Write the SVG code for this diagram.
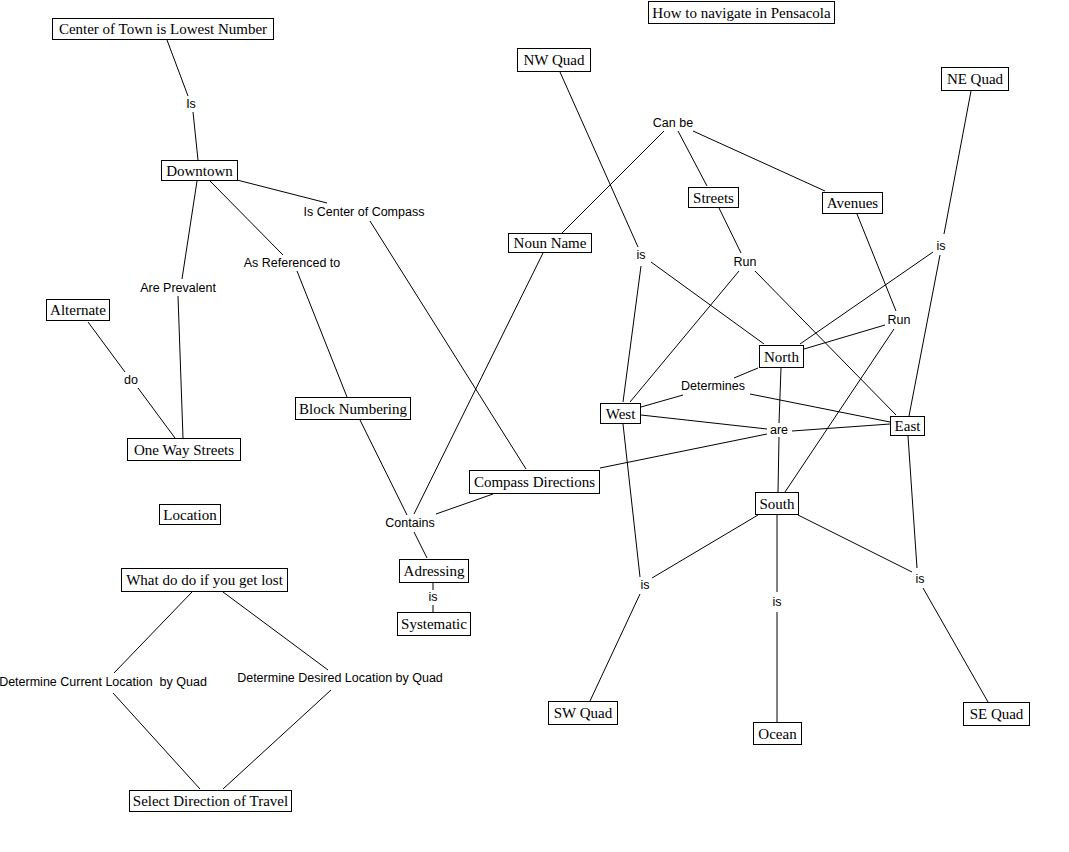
<svg xmlns="http://www.w3.org/2000/svg" width="1069" height="852" viewBox="0 0 1069 852">
<style>
.n rect{fill:#fff;stroke:#000;stroke-width:1}
.n text{font-family:"Liberation Serif","Times New Roman",serif;font-size:15px;text-anchor:middle;fill:#000}
.l text{font-family:"Liberation Sans",Arial,sans-serif;font-size:12.5px;text-anchor:middle;fill:#000}
#connectors line{stroke:#000;stroke-width:1}
</style>
<rect width="1069" height="852" fill="#fff"/>
<g id="connectors">
<line x1="167" y1="40" x2="188" y2="96"/>
<line x1="193" y1="112" x2="198" y2="160"/>
<line x1="237" y1="180" x2="327" y2="203"/>
<line x1="370" y1="221" x2="526" y2="469"/>
<line x1="210" y1="181" x2="283" y2="255"/>
<line x1="297" y1="271" x2="347" y2="397"/>
<line x1="197" y1="181" x2="182" y2="279"/>
<line x1="178" y1="296" x2="183" y2="438"/>
<line x1="88" y1="322" x2="125" y2="372"/>
<line x1="138" y1="388" x2="175" y2="438"/>
<line x1="360" y1="420" x2="407" y2="515"/>
<line x1="543" y1="253" x2="414" y2="514"/>
<line x1="493" y1="494" x2="436" y2="514"/>
<line x1="414" y1="532" x2="427" y2="558"/>
<line x1="433" y1="583" x2="433" y2="590"/>
<line x1="433" y1="605" x2="433" y2="612"/>
<line x1="192" y1="592" x2="114" y2="673"/>
<line x1="223" y1="592" x2="328" y2="670"/>
<line x1="113" y1="693" x2="200" y2="789"/>
<line x1="331" y1="690" x2="223" y2="789"/>
<line x1="664" y1="131" x2="562" y2="233"/>
<line x1="678" y1="131" x2="707" y2="186"/>
<line x1="693" y1="131" x2="825" y2="191"/>
<line x1="560" y1="72" x2="638" y2="247"/>
<line x1="651" y1="262" x2="764" y2="344"/>
<line x1="641" y1="266" x2="623" y2="402"/>
<line x1="719" y1="208" x2="741" y2="253"/>
<line x1="739" y1="271" x2="630" y2="402"/>
<line x1="755" y1="271" x2="896" y2="415"/>
<line x1="857" y1="214" x2="896" y2="311"/>
<line x1="971" y1="91" x2="944" y2="234"/>
<line x1="933" y1="252" x2="800" y2="344"/>
<line x1="940" y1="255" x2="909" y2="416"/>
<line x1="885" y1="325" x2="804" y2="349"/>
<line x1="894" y1="329" x2="785" y2="492"/>
<line x1="781" y1="368" x2="779" y2="423"/>
<line x1="779" y1="437" x2="778" y2="492"/>
<line x1="758" y1="368" x2="734" y2="378"/>
<line x1="683" y1="395" x2="641" y2="407"/>
<line x1="750" y1="394" x2="890" y2="422"/>
<line x1="641" y1="415" x2="767" y2="429"/>
<line x1="792" y1="431" x2="890" y2="424"/>
<line x1="600" y1="468" x2="767" y2="434"/>
<line x1="623" y1="424" x2="640" y2="577"/>
<line x1="758" y1="515" x2="652" y2="578"/>
<line x1="640" y1="594" x2="590" y2="701"/>
<line x1="777" y1="515" x2="777" y2="592"/>
<line x1="777" y1="612" x2="777" y2="722"/>
<line x1="798" y1="515" x2="912" y2="572"/>
<line x1="908" y1="436" x2="917" y2="568"/>
<line x1="923" y1="588" x2="988" y2="702"/>
</g>
<g class="l">
<g id="lbl-is1"><text x="191" y="108">Is</text></g>
<g id="lbl-iscenter"><text x="364" y="216">Is Center of Compass</text></g>
<g id="lbl-asref"><text x="292" y="267">As Referenced to</text></g>
<g id="lbl-areprev"><text x="178" y="292">Are Prevalent</text></g>
<g id="lbl-do"><text x="131" y="384">do</text></g>
<g id="lbl-contains"><text x="410" y="527">Contains</text></g>
<g id="lbl-is2"><text x="433" y="601">is</text></g>
<g id="lbl-detcur"><text x="103" y="686" xml:space="preserve">Determine Current Location  by Quad</text></g>
<g id="lbl-detdes"><text x="340" y="682">Determine Desired Location by Quad</text></g>
<g id="lbl-canbe"><text x="673" y="127">Can be</text></g>
<g id="lbl-isnw"><text x="641" y="259">is</text></g>
<g id="lbl-run1"><text x="745" y="266">Run</text></g>
<g id="lbl-isne"><text x="941" y="250">is</text></g>
<g id="lbl-run2"><text x="899" y="324">Run</text></g>
<g id="lbl-determines"><text x="713" y="390">Determines</text></g>
<g id="lbl-are"><text x="779" y="434">are</text></g>
<g id="lbl-issw"><text x="645" y="589">is</text></g>
<g id="lbl-isocean"><text x="777" y="606">is</text></g>
<g id="lbl-isse"><text x="920" y="583">is</text></g>
</g>
<g class="n">
<g id="title"><rect x="648.5" y="1.5" width="186" height="22"/><text x="741.5" y="17.5">How to navigate in Pensacola</text></g>
<g id="center-town"><rect x="52.5" y="18.5" width="221" height="21"/><text x="163" y="34">Center of Town is Lowest Number</text></g>
<g id="downtown"><rect x="161.5" y="160.5" width="76" height="20"/><text x="199.5" y="175.5">Downtown</text></g>
<g id="alternate"><rect x="46.5" y="299.5" width="63" height="21"/><text x="78" y="315">Alternate</text></g>
<g id="one-way"><rect x="127.5" y="438.5" width="113" height="22"/><text x="184" y="454.5">One Way Streets</text></g>
<g id="location"><rect x="159.5" y="504.5" width="61" height="20"/><text x="190" y="519.5">Location</text></g>
<g id="block-numbering"><rect x="295.5" y="397.5" width="115" height="22"/><text x="353" y="413.5">Block Numbering</text></g>
<g id="compass"><rect x="469.5" y="470.5" width="130" height="23"/><text x="534.5" y="487">Compass Directions</text></g>
<g id="adressing"><rect x="399.5" y="559.5" width="69" height="23"/><text x="434" y="576">Adressing</text></g>
<g id="systematic"><rect x="397.5" y="612.5" width="73" height="23"/><text x="434" y="629">Systematic</text></g>
<g id="lost"><rect x="121.5" y="568.5" width="166" height="23"/><text x="204.5" y="585">What do do if you get lost</text></g>
<g id="select"><rect x="129.5" y="790.5" width="162" height="21"/><text x="210.5" y="806">Select Direction of Travel</text></g>
<g id="nw-quad"><rect x="517.5" y="48.5" width="73" height="23"/><text x="554" y="65">NW Quad</text></g>
<g id="ne-quad"><rect x="941.5" y="67.5" width="67" height="23"/><text x="975" y="84">NE Quad</text></g>
<g id="streets"><rect x="688.5" y="187.5" width="50" height="20"/><text x="713.5" y="202.5">Streets</text></g>
<g id="avenues"><rect x="822.5" y="192.5" width="60" height="21"/><text x="852.5" y="208">Avenues</text></g>
<g id="noun-name"><rect x="508.5" y="233.5" width="83" height="19"/><text x="550" y="248">Noun Name</text></g>
<g id="north"><rect x="759.5" y="345.5" width="44" height="22"/><text x="781.5" y="361.5">North</text></g>
<g id="west"><rect x="600.5" y="403.5" width="40" height="20"/><text x="620.5" y="418.5">West</text></g>
<g id="east"><rect x="890.5" y="416.5" width="34" height="19"/><text x="907.5" y="431">East</text></g>
<g id="south"><rect x="755.5" y="492.5" width="43" height="22"/><text x="777" y="508.5">South</text></g>
<g id="sw-quad"><rect x="548.5" y="701.5" width="69" height="23"/><text x="583" y="718">SW Quad</text></g>
<g id="ocean"><rect x="753.5" y="722.5" width="48" height="22"/><text x="777.5" y="738.5">Ocean</text></g>
<g id="se-quad"><rect x="963.5" y="702.5" width="66" height="23"/><text x="996.5" y="719">SE Quad</text></g>
</g>
</svg>
